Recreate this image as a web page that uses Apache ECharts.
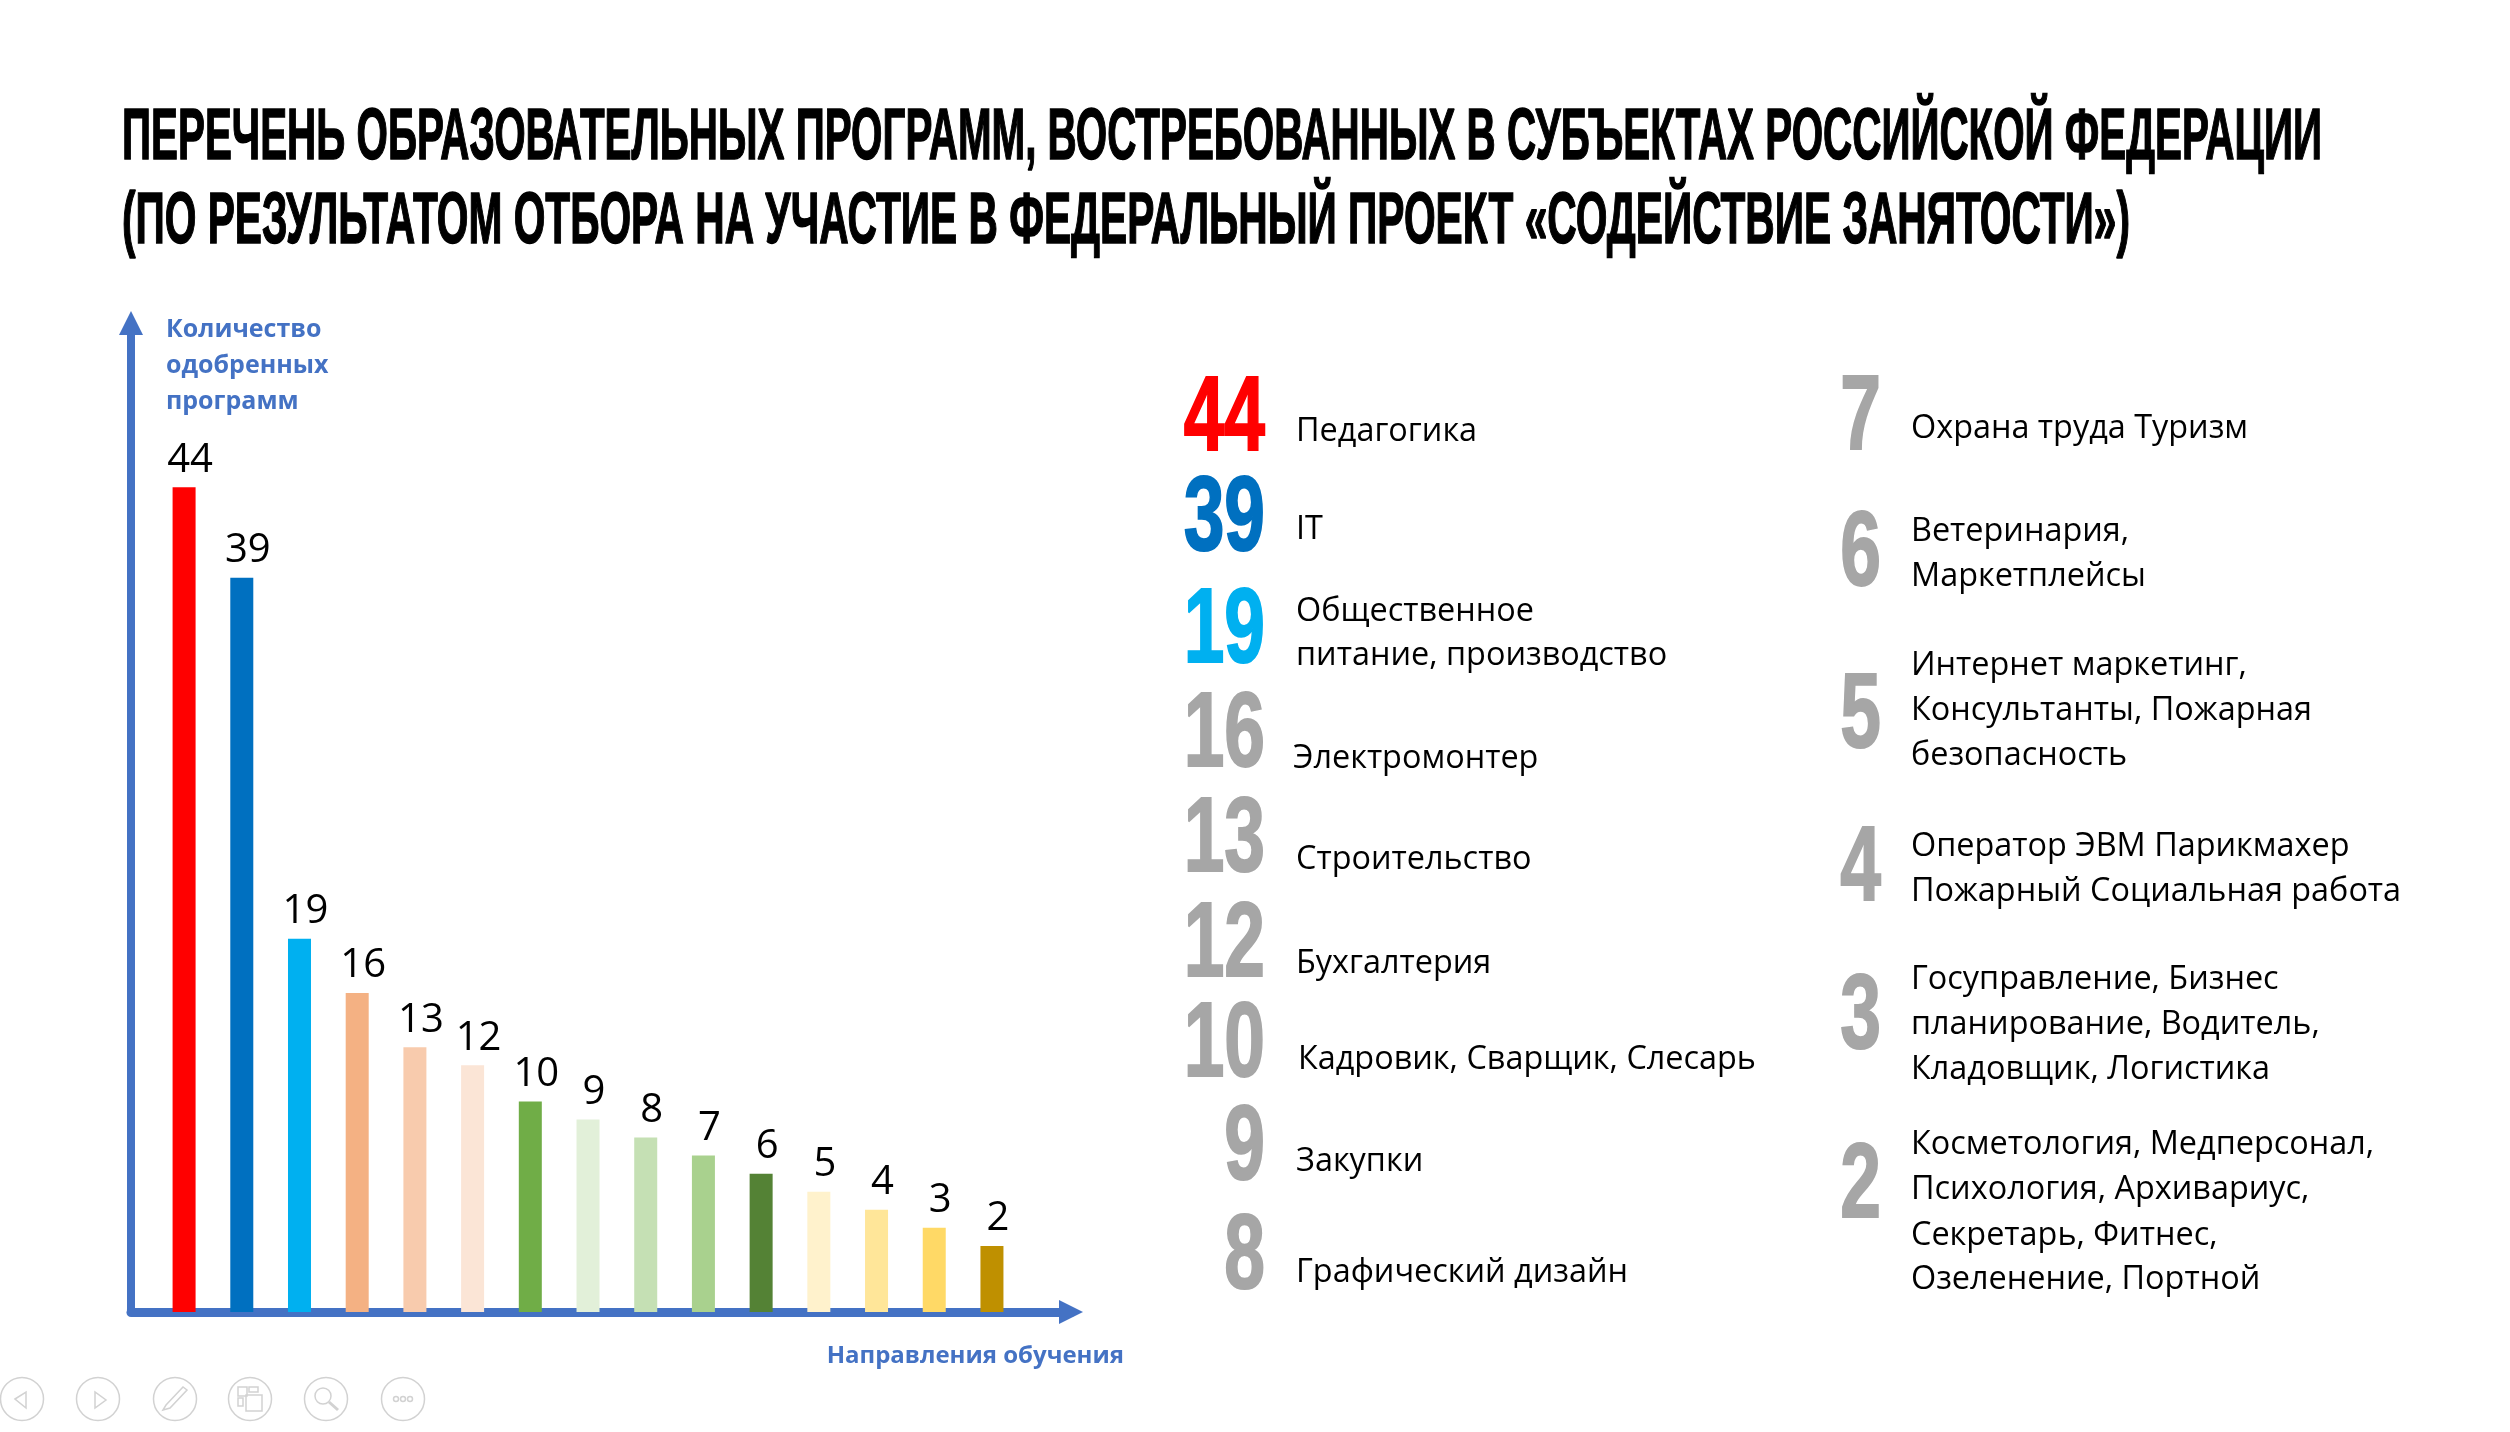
<!DOCTYPE html>
<html>
<head>
<meta charset="utf-8">
<title>Перечень образовательных программ</title>
<script src="https://cdn.jsdelivr.net/npm/echarts@6/dist/echarts.min.js"></script>
<style>
  html, body { margin: 0; background: #fff; }
  #chart { width: 2510px; height: 1432px; }
</style>
</head>
<body>
<div id="chart"></div>
<script>
const titleLines = [
  'ПЕРЕЧЕНЬ ОБРАЗОВАТЕЛЬНЫХ ПРОГРАММ, ВОСТРЕБОВАННЫХ В СУБЪЕКТАХ РОССИЙСКОЙ ФЕДЕРАЦИИ',
  '(ПО РЕЗУЛЬТАТОМ ОТБОРА НА УЧАСТИЕ В ФЕДЕРАЛЬНЫЙ ПРОЕКТ «СОДЕЙСТВИЕ ЗАНЯТОСТИ»)'
]
const yAxisName = 'Количество\nодобренных\nпрограмм'
const xAxisName = 'Направления обучения'

const counts = [44, 39, 19, 16, 13, 12, 10, 9, 8, 7, 6, 5, 4, 3, 2]
const barColors = ['#FF0000', '#0070C0', '#00B0F0', '#F4B183', '#F8CBAD', '#FBE5D6', '#70AD47',
  '#E2F0D9', '#C5E0B4', '#A9D18E', '#548235', '#FFF2CC', '#FFE699', '#FFD966', '#BF9000']

const leftNumbers = ['44', '39', '19', '16', '13', '12', '10', '9', '8']
const leftNumberColors = ['#FF0000', '#0070C0', '#00B0F0', '#A6A6A6', '#A6A6A6', '#A6A6A6', '#A6A6A6', '#A6A6A6', '#A6A6A6']
const leftTexts = [
  ['Педагогика'],
  ['IT'],
  ['Общественное', 'питание, производство'],
  ['Электромонтер'],
  ['Строительство'],
  ['Бухгалтерия'],
  ['Кадровик, Сварщик, Слесарь'],
  ['Закупки'],
  ['Графический дизайн']
]
const rightNumbers = ['7', '6', '5', '4', '3', '2']
const rightTexts = [
  ['Охрана труда Туризм'],
  ['Ветеринария,', 'Маркетплейсы'],
  ['Интернет маркетинг,', 'Консультанты, Пожарная', 'безопасность'],
  ['Оператор ЭВМ Парикмахер', 'Пожарный Социальная работа'],
  ['Госуправление, Бизнес', 'планирование, Водитель,', 'Кладовщик, Логистика'],
  ['Косметология, Медперсонал,', 'Психология, Архивариус,', 'Секретарь, Фитнес,', 'Озеленение, Портной']
]

const BODY_FONT = '"Open Sans", "Noto Sans", sans-serif'
const NARROW_FONT = '"Liberation Sans Narrow", "Liberation Sans", sans-serif'
const AXIS_BLUE = '#4472C4'
const ICON_GREY = '#D2D2D2'

const measure = document.createElement('canvas').getContext('2d')
function fitScale(text, font, target) {
  measure.font = font
  return target / measure.measureText(text).width
}

// title is squeezed to the width of a condensed display face
function titleText(text, y, width) {
  const font = 'bold 72px ' + NARROW_FONT
  return {
    type: 'text',
    x: 122,
    y: y,
    scaleX: fitScale(text, font, width),
    style: { text: text, font: font, fill: '#000', stroke: '#000', lineWidth: 1.5, textVerticalAlign: 'middle' }
  }
}

function bigNumber(text, rightX, centerY, color) {
  const font = 'bold 106px ' + NARROW_FONT
  return {
    type: 'text',
    x: rightX,
    y: centerY,
    scaleX: 0.69,
    style: { text: text, font: font, fill: color, stroke: color, lineWidth: 2, align: 'right', textVerticalAlign: 'middle' }
  }
}

function bodyLine(text, x, centerY) {
  return {
    type: 'text',
    x: x,
    y: centerY,
    style: { text: text, font: '32.4px ' + BODY_FONT, fill: '#000', textVerticalAlign: 'middle' }
  }
}

const leftNumberY = [421, 521, 633, 737, 842, 947, 1047, 1150, 1259]
const leftTextX = [1296, 1296, 1296, 1293, 1296, 1296, 1298, 1296, 1296]
const leftTextY = [[432], [530], [612, 656], [759], [860], [964], [1060], [1162], [1273]]
const rightNumberY = [420, 556, 718, 871, 1019, 1188]
const rightTextY = [[429], [532, 577], [666, 711, 756], [847, 892], [980, 1025, 1070], [1145, 1190, 1236, 1280]]

const graphics = [
  titleText(titleLines[0], 139, 2200),
  titleText(titleLines[1], 223, 2008)
]
leftNumbers.forEach(function(n, i) {
  graphics.push(bigNumber(n, 1265, leftNumberY[i], leftNumberColors[i]))
  leftTexts[i].forEach(function(line, j) {
    graphics.push(bodyLine(line, leftTextX[i], leftTextY[i][j]))
  })
})
rightNumbers.forEach(function(n, i) {
  graphics.push(bigNumber(n, 1881, rightNumberY[i], '#A6A6A6'))
  rightTexts[i].forEach(function(line, j) {
    graphics.push(bodyLine(line, 1911, rightTextY[i][j]))
  })
})

// faint slideshow buttons in the bottom left corner
const iconLine = { fill: 'none', stroke: ICON_GREY, lineWidth: 1.5 }
const footerX = [22, 98, 175, 250, 326, 403]
footerX.forEach(function(x) {
  graphics.push({ type: 'circle', shape: { cx: x, cy: 1399, r: 21.5 }, style: iconLine })
})
graphics.push(
  { type: 'polygon', shape: { points: [[15, 1399], [26, 1392], [26, 1408]] }, style: iconLine },
  { type: 'polygon', shape: { points: [[95, 1392], [95, 1408], [106, 1400]] }, style: iconLine },
  { type: 'polygon', shape: { points: [[163, 1410], [166, 1405], [183, 1387], [187, 1390], [170, 1408]] }, style: iconLine },
  { type: 'rect', shape: { x: 238, y: 1387, width: 9, height: 9 }, style: iconLine },
  { type: 'rect', shape: { x: 249, y: 1387, width: 9, height: 5 }, style: iconLine },
  { type: 'rect', shape: { x: 238, y: 1398, width: 5, height: 8 }, style: iconLine },
  { type: 'rect', shape: { x: 246, y: 1395, width: 16, height: 16 }, style: iconLine },
  { type: 'circle', shape: { cx: 323, cy: 1396, r: 8 }, style: iconLine },
  { type: 'line', shape: { x1: 329, y1: 1402, x2: 338, y2: 1410 }, style: { stroke: ICON_GREY, lineWidth: 3 } },
  { type: 'circle', shape: { cx: 396, cy: 1399, r: 2.5 }, style: iconLine },
  { type: 'circle', shape: { cx: 403, cy: 1399, r: 2.5 }, style: iconLine },
  { type: 'circle', shape: { cx: 410, cy: 1399, r: 2.5 }, style: iconLine }
)

const chart = echarts.init(document.getElementById('chart'))
chart.setOption({
  backgroundColor: '#fff',
  animation: false,
  graphic: graphics,
  grid: { left: 131, right: 2510 - 1071, top: 323, bottom: 1432 - 1312 },
  xAxis: {
    type: 'value',
    min: -0.92,
    max: 15.37,
    name: xAxisName,
    nameLocation: 'end',
    nameGap: 53,
    nameTextStyle: {
      color: AXIS_BLUE,
      fontFamily: BODY_FONT,
      fontWeight: 'bold',
      fontSize: 24,
      align: 'right',
      verticalAlign: 'top',
      padding: [32, 0, 0, 0]
    },
    axisLine: {
      show: true,
      onZero: false,
      symbol: ['none', 'triangle'],
      symbolSize: [24, 24],
      lineStyle: { color: AXIS_BLUE, width: 9 }
    },
    axisTick: { show: false },
    axisLabel: { show: false },
    splitLine: { show: false }
  },
  yAxis: {
    type: 'value',
    min: -1.66,
    max: 53.1,
    startValue: -1.66,
    name: yAxisName,
    nameLocation: 'end',
    nameGap: 11,
    nameTextStyle: {
      color: AXIS_BLUE,
      fontFamily: BODY_FONT,
      fontWeight: 'bold',
      fontSize: 25,
      lineHeight: 36,
      align: 'left',
      verticalAlign: 'top',
      padding: [0, 0, 0, 35]
    },
    axisLine: {
      show: true,
      onZero: false,
      symbol: ['none', 'triangle'],
      symbolSize: [24, 24],
      lineStyle: { color: AXIS_BLUE, width: 8 }
    },
    axisTick: { show: false },
    axisLabel: { show: false },
    splitLine: { show: false }
  },
  series: [{
    type: 'bar',
    barWidth: 23,
    data: counts.map(function(v, i) {
      return { value: [i, v], itemStyle: { color: barColors[i] } }
    }),
    label: {
      show: true,
      position: 'top',
      distance: 7,
      offset: [6, 0],
      color: '#000',
      fontFamily: BODY_FONT,
      fontSize: 40,
      formatter: function(p) { return p.value[1] }
    }
  }]
})
</script>
</body>
</html>
